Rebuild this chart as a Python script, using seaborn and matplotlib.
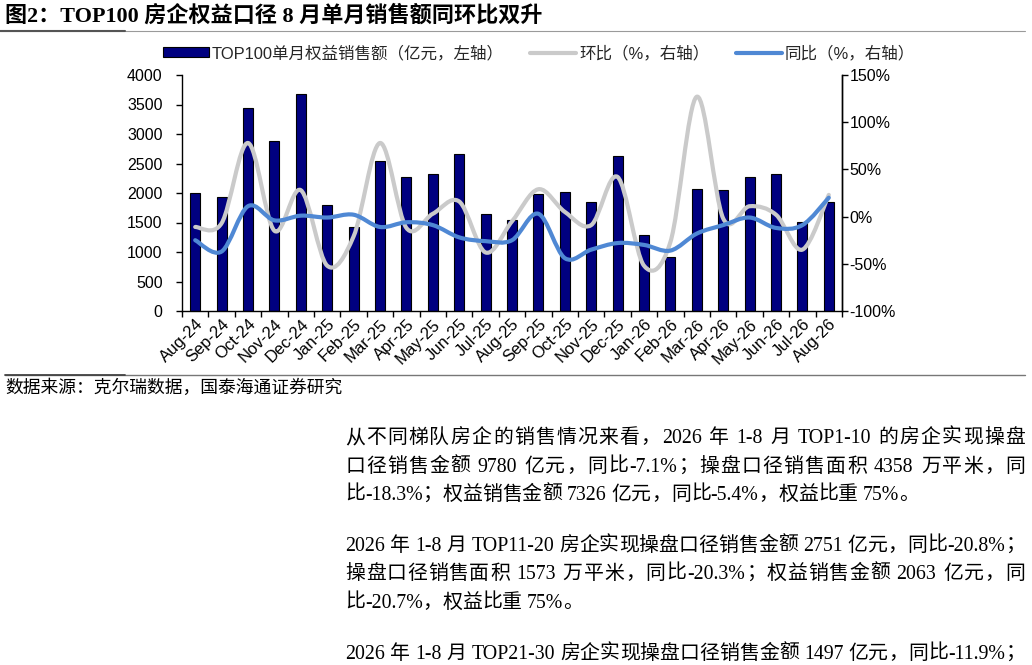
import re
import numpy as np
import pandas as pd
import matplotlib
matplotlib.use("Agg")
import matplotlib.pyplot as plt
import seaborn as sns
from matplotlib.path import Path
from matplotlib.patches import PathPatch, Patch
from matplotlib.lines import Line2D

# ---------------- data ----------------
months = ['Aug-24', 'Sep-24', 'Oct-24', 'Nov-24', 'Dec-24', 'Jan-25', 'Feb-25',
          'Mar-25', 'Apr-25', 'May-25', 'Jun-25', 'Jul-25', 'Aug-25', 'Sep-25',
          'Oct-25', 'Nov-25', 'Dec-25', 'Jan-26', 'Feb-26', 'Mar-26', 'Apr-26',
          'May-26', 'Jun-26', 'Jul-26', 'Aug-26']
sales = [1995, 1930, 3435, 2880, 3670, 1800, 1430, 2540, 2265, 2315, 2665, 1645,
         1540, 1985, 2010, 1840, 2620, 1290, 910, 2065, 2050, 2275, 2325, 1505, 1845]
mom = [-11, -7, 78, -15, 28, -52, -21, 78, -12, 3, 16, -38, -5, 29, 5, -9, 42,
       -52, -27, 127, -2, 11, 2, -35, 23]
yoy = [-25, -37, 11, -4, 1, -1, 2, -11, -6, -9, -22, -26, -25, 3, -44, -35, -28,
       -30, -36, -18, -9, -1, -12, -9, 20]
left_ticks = [0, 500, 1000, 1500, 2000, 2500, 3000, 3500, 4000]
right_ticks = [-100, -50, 0, 50, 100, 150]
legend_labels = ['TOP100单月权益销售额（亿元，左轴）', '环比（%，右轴）', '同比（%，右轴）']
title = '图2：TOP100 房企权益口径 8 月单月销售额同环比双升'
source = '数据来源：克尔瑞数据，国泰海通证券研究'
body_lines = [
    ('从不同梯队房企的销售情况来看，2026 年 1-8 月 TOP1-10 的房企实现操盘', True),
    ('口径销售金额 9780 亿元，同比-7.1%；操盘口径销售面积 4358 万平米，同', True),
    ('比-18.3%；权益销售金额 7326 亿元，同比-5.4%，权益比重 75%。', False),
    ('2026 年 1-8 月 TOP11-20 房企实现操盘口径销售金额 2751 亿元，同比-20.8%；', True),
    ('操盘口径销售面积 1573 万平米，同比-20.3%；权益销售金额 2063 亿元，同', True),
    ('比-20.7%，权益比重 75%。', False),
    ('2026 年 1-8 月 TOP21-30 房企实现操盘口径销售金额 1497 亿元，同比-11.9%；', True),
]
body_y = [436, 465, 493, 544, 572, 601, 652]

# ---------------- style ----------------
sns.set_theme(style="white")
SANS = ['Liberation Sans', 'Noto Sans CJK SC']
SERIF = ['Liberation Serif', 'Noto Sans CJK SC']
plt.rcParams['font.family'] = SANS
plt.rcParams['axes.unicode_minus'] = False

NAVY = '#000080'
GRAY = '#CACACA'
BLUE = '#4F88D4'

W, H = 1032, 665
fig = plt.figure(figsize=(W / 100, H / 100), dpi=100)
fig.patch.set_facecolor('white')


def fx(px):
    return px / W


def fy(py):
    return 1 - py / H


ax = fig.add_axes([fx(182), fy(311), (842 - 182) / W, (311 - 75) / H])
df = pd.DataFrame({'month': months, 'sales': sales})
sns.barplot(data=df, x='month', y='sales', color=NAVY, edgecolor='black',
            linewidth=0.8, width=0.38, saturation=1, ax=ax)
ax.set_xlabel('')
ax.set_ylabel('')
ax.set_xlim(-0.5, len(months) - 0.5)
ax.set_ylim(0, 4000)
ax.set_yticks(left_ticks)
ax.set_yticklabels([str(v) for v in left_ticks])
ax.set_xticks(np.arange(-0.5, len(months), 1.0))
ax.set_xticklabels([])
ax.set_xticks(np.arange(len(months)), minor=True)
ax.set_xticklabels(months, minor=True)
for lab in ax.get_xticklabels(minor=True):
    lab.set_rotation(45)
    lab.set_ha('right')
    lab.set_va('top')
    lab.set_rotation_mode('anchor')
ax.tick_params(axis='x', which='major', bottom=True, direction='out', length=4,
               width=1, color='black')
ax.tick_params(axis='x', which='minor', bottom=True, length=0, pad=4,
               labelsize=12, labelcolor='black', labelbottom=True)
ax.tick_params(axis='y', left=True, direction='out', length=4, width=1,
               color='black', pad=10, labelsize=11.5, labelcolor='black')
ax.grid(False)
for s in ['left', 'bottom', 'right']:
    ax.spines[s].set_color('black')
    ax.spines[s].set_linewidth(1)
ax.spines['top'].set_visible(False)

ax2 = ax.twinx()
ax2.set_ylim(-100, 150)
ax2.set_yticks(right_ticks)
ax2.set_yticklabels([f'{v}%' for v in right_ticks])
ax2.tick_params(axis='y', right=True, direction='out', length=4, width=1,
                color='black', pad=1.5, labelsize=11.5, labelcolor='black')
ax2.grid(False)
ax2.spines['top'].set_visible(False)
ax2.spines['right'].set_color('black')
ax2.spines['right'].set_linewidth(1)
ax2.spines['left'].set_visible(False)
ax2.spines['bottom'].set_visible(False)


def smooth_path(xs, ys):
    pts = np.column_stack([xs, ys]).astype(float)
    n = len(pts)
    verts = [pts[0]]
    codes = [Path.MOVETO]
    for i in range(n - 1):
        p0 = pts[i - 1] if i > 0 else pts[i]
        p1 = pts[i]
        p2 = pts[i + 1]
        p3 = pts[i + 2] if i + 2 < n else pts[i + 1]
        c1 = p1 + (p2 - p0) / 6.0
        c2 = p2 - (p3 - p1) / 6.0
        verts += [c1, c2, p2]
        codes += [Path.CURVE4] * 3
    return Path(verts, codes)


xpos = np.arange(len(months))
ax2.add_patch(PathPatch(smooth_path(xpos, mom), fill=False, edgecolor=GRAY,
                        lw=3, capstyle='round', joinstyle='round', zorder=3))
ax2.add_patch(PathPatch(smooth_path(xpos, yoy), fill=False, edgecolor=BLUE,
                        lw=3, capstyle='round', joinstyle='round', zorder=4))

handles = [Patch(facecolor=NAVY, edgecolor='black', linewidth=0.8),
           Line2D([], [], color=GRAY, lw=3),
           Line2D([], [], color=BLUE, lw=3)]
fig.legend(handles, legend_labels, loc='center left',
           bbox_to_anchor=(fx(163), fy(53)), ncol=3, frameon=False,
           borderpad=0, borderaxespad=0, handlelength=2.8, handleheight=0.5,
           handletextpad=0.15, columnspacing=1.6, fontsize=11.9)

# ---------------- page elements ----------------
fig.text(fx(5), fy(16), title, fontsize=15.9, fontweight='bold', family=SERIF,
         va='center', ha='left', color='black')
fig.add_artist(Line2D([fx(0), fx(1025)], [fy(31), fy(31)], color='#9a9a9a',
                      lw=0.8, transform=fig.transFigure))
fig.add_artist(Line2D([fx(0), fx(125)], [fy(31), fy(31)], color='#555555',
                      lw=1.5, transform=fig.transFigure))
fig.add_artist(Line2D([fx(5), fx(1025)], [fy(375), fy(375)], color='#777777',
                      lw=1.0, transform=fig.transFigure))
fig.add_artist(Line2D([fx(5), fx(125)], [fy(375), fy(375)], color='#444444',
                      lw=1.3, transform=fig.transFigure))
fig.text(fx(5), fy(388), source, fontsize=12.8, family=SERIF, va='center',
         ha='left', color='black')

renderer = fig.canvas.get_renderer()
BODY_FS = 14.3
fs_px = BODY_FS * 100 / 72


def body_line(s, yc, justify, x0=345, x1=1025):
    toks = re.findall(r'[A-Za-z0-9.\-%]+| |.', s)
    arts, widths = [], []
    for t in toks:
        if t == ' ':
            arts.append(None)
            widths.append(0.25 * fs_px)
        else:
            a = fig.text(0, 0, t, fontsize=BODY_FS, family=SERIF, va='baseline',
                         ha='left', color='black')
            widths.append(a.get_window_extent(renderer).width)
            arts.append(a)
    natural = sum(widths)
    extra = (x1 - x0 - natural) / (len(toks) - 1) if justify else 0.0
    x = x0
    for a, w in zip(arts, widths):
        if a is not None:
            a.set_position((fx(x), fy(yc + 7)))
        x += w + extra


for (s, j), yc in zip(body_lines, body_y):
    body_line(s, yc, j)

fig.savefig('out.png', dpi=100)
